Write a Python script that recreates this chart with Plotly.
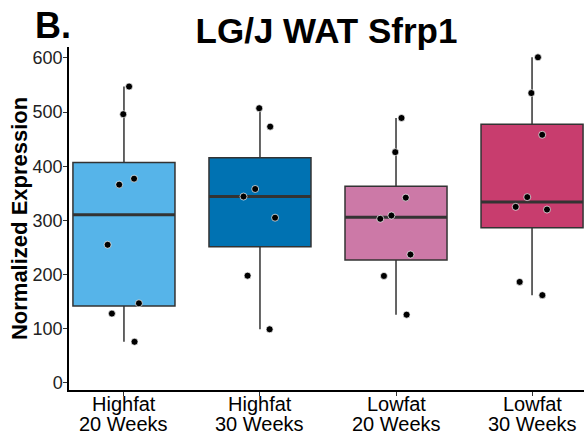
import numpy as np
import plotly.graph_objects as go

groups = ["Highfat 20 Weeks", "Highfat 30 Weeks", "Lowfat 20 Weeks", "Lowfat 30 Weeks"]
diet_labels = ["Highfat", "Highfat", "Lowfat", "Lowfat"]
week_labels = ["20 Weeks", "30 Weeks", "20 Weeks", "30 Weeks"]
highfat_20 = [547, 496, 377, 366, 255, 147, 128, 76]
highfat_30 = [507, 473, 358, 344, 305, 198, 99]
lowfat_20 = [489, 426, 342, 309, 303, 237, 197.5, 126]
lowfat_30 = [601, 535, 458, 343, 325, 320, 186.5, 162]
series = [highfat_20, highfat_30, lowfat_20, lowfat_30]
colors = ["#56B4E9", "#0072B2", "#CC79A7", "#C83D6E"]
y_ticks = [0, 100, 200, 300, 400, 500, 600]

FONT = "Liberation Sans, Arial, sans-serif"
EDGE = "#333333"

fig = go.Figure()
for g, vals, col in zip(groups, series, colors):
    v = np.array(vals, dtype=float)
    q1, med, q3 = np.percentile(v, [25, 50, 75])
    iqr = q3 - q1
    lo = v[v >= q1 - 1.5 * iqr].min()
    hi = v[v <= q3 + 1.5 * iqr].max()
    # box (ggplot-style quantiles)
    fig.add_trace(go.Box(
        x=[g], q1=[q1], median=[med], q3=[q3], lowerfence=[lo], upperfence=[hi],
        whiskerwidth=0, width=0.75, fillcolor=col,
        line=dict(color=EDGE, width=1.5), showlegend=False, hoverinfo="skip",
    ))
    # thicker median line
    fig.add_trace(go.Box(
        x=[g], q1=[med], median=[med], q3=[med], lowerfence=[med], upperfence=[med],
        whiskerwidth=0, width=0.75, fillcolor="rgba(0,0,0,0)",
        line=dict(color=EDGE, width=3), showlegend=False, hoverinfo="skip",
    ))
    # jittered points
    fig.add_trace(go.Box(
        x=[g] * len(vals), y=vals, boxpoints="all", jitter=0.4, pointpos=0,
        width=0.75, fillcolor="rgba(0,0,0,0)", line=dict(color="rgba(0,0,0,0)", width=0),
        marker=dict(color="black", size=7, line=dict(color="white", width=0.7)),
        showlegend=False, hoverinfo="y",
    ))

annotations = [
    dict(text="<b>B.</b>", xref="paper", yref="paper", x=-0.07, y=1.064,
         xanchor="left", yanchor="middle", showarrow=False,
         font=dict(size=36, family=FONT, color="black")),
    dict(text="<b>Normalized Expression</b>", xref="paper", yref="paper", x=-0.096, y=0.5,
         xanchor="center", yanchor="middle", textangle=-90, showarrow=False,
         font=dict(size=22, family=FONT, color="black")),
]
for g, d, w in zip(groups, diet_labels, week_labels):
    annotations.append(dict(text=d, xref="x", yref="paper", x=g, y=0, yanchor="middle",
                            yshift=-14, showarrow=False,
                            font=dict(size=20, family=FONT, color="black")))
    annotations.append(dict(text=w, xref="x", yref="paper", x=g, y=0, yanchor="middle",
                            yshift=-34, showarrow=False,
                            font=dict(size=20, family=FONT, color="black")))

fig.update_layout(
    width=584, height=437,
    margin=dict(l=69, r=0, t=47, b=47, autoexpand=False),
    paper_bgcolor="white", plot_bgcolor="white",
    boxmode="overlay",
    font=dict(family=FONT, color="black"),
    title=dict(text="<b>LG/J WAT Sfrp1</b>", x=0.5, xref="paper", xanchor="center",
               y=0.929, yref="container", yanchor="middle",
               font=dict(size=35, family=FONT, color="black")),
    xaxis=dict(type="category", categoryorder="array", categoryarray=groups,
               range=[-0.404, 3.382], showline=True, linecolor="black", linewidth=1.5,
               ticks="outside", ticklen=4, tickwidth=1.2, tickcolor=EDGE,
               showticklabels=False, showgrid=False, zeroline=False, automargin=False),
    yaxis=dict(range=[-13, 620], tickvals=y_ticks, showline=True, linecolor="black", linewidth=1.5,
               ticks="outside", ticklen=4, tickwidth=1.2, tickcolor=EDGE,
               ticklabelstandoff=-3,
               tickfont=dict(size=18, family=FONT, color="#222222"), showgrid=False, zeroline=False,
               automargin=False),
    annotations=annotations,
)

fig.write_html("out.html")
